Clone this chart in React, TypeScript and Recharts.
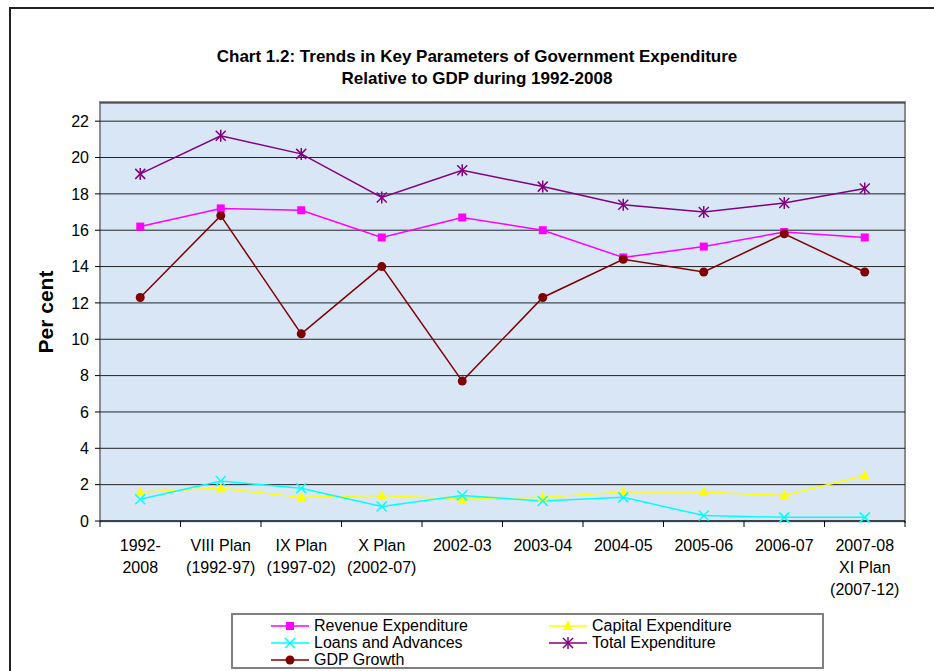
import React from "react";
import { ComposedChart, Line, XAxis, YAxis, CartesianGrid, Legend } from "recharts";

const categories = [
  "1992-\n2008",
  "VIII Plan\n(1992-97)",
  "IX Plan\n(1997-02)",
  "X Plan\n(2002-07)",
  "2002-03",
  "2003-04",
  "2004-05",
  "2005-06",
  "2006-07",
  "2007-08\nXI Plan\n(2007-12)",
];
const revenueExpenditure = [16.2, 17.2, 17.1, 15.6, 16.7, 16.0, 14.5, 15.1, 15.9, 15.6];
const capitalExpenditure = [1.6, 1.8, 1.3, 1.4, 1.2, 1.3, 1.6, 1.6, 1.4, 2.5];
const loansAndAdvances = [1.2, 2.2, 1.8, 0.8, 1.4, 1.1, 1.3, 0.3, 0.2, 0.2];
const totalExpenditure = [19.1, 21.2, 20.2, 17.8, 19.3, 18.4, 17.4, 17.0, 17.5, 18.3];
const gdpGrowth = [12.3, 16.8, 10.3, 14.0, 7.7, 12.3, 14.4, 13.7, 15.8, 13.7];
const yTicks = [0, 2, 4, 6, 8, 10, 12, 14, 16, 18, 20, 22];

const data = categories.map((name, i) => ({
  name,
  revenue: revenueExpenditure[i],
  capital: capitalExpenditure[i],
  loans: loansAndAdvances[i],
  total: totalExpenditure[i],
  gdp: gdpGrowth[i],
}));

const FONT = "'Liberation Sans', Arial, sans-serif";
const W = 934;
const H = 671;
const PLOT = { left: 100, top: 103, right: 905, bottom: 521 };
const BAND = (PLOT.right - PLOT.left) / categories.length;

type Shape = "square" | "triangle" | "cross" | "star" | "circle";

function Marker({ shape, color, cx, cy }: { shape: Shape; color: string; cx: number; cy: number }) {
  if (shape === "square") return <rect x={cx - 4} y={cy - 4} width={8} height={8} fill={color} />;
  if (shape === "triangle")
    return <polygon points={`${cx},${cy - 5.5} ${cx + 5},${cy + 4} ${cx - 5},${cy + 4}`} fill={color} />;
  if (shape === "circle") return <circle cx={cx} cy={cy} r={4.5} fill={color} />;
  const s = 5;
  return (
    <g stroke={color} strokeWidth={1.5}>
      <line x1={cx - s} y1={cy - s} x2={cx + s} y2={cy + s} />
      <line x1={cx - s} y1={cy + s} x2={cx + s} y2={cy - s} />
      {shape === "star" && <line x1={cx} y1={cy - s - 1} x2={cx} y2={cy + s + 1} />}
    </g>
  );
}

const makeDot = (shape: Shape, color: string) => (props: any) => (
  <Marker key={`${shape}-${props.index}`} shape={shape} color={color} cx={props.cx} cy={props.cy} />
);

const series: { key: string; label: string; color: string; shape: Shape }[] = [
  { key: "revenue", label: "Revenue Expenditure", color: "#ff00ff", shape: "square" },
  { key: "capital", label: "Capital Expenditure", color: "#ffff00", shape: "triangle" },
  { key: "loans", label: "Loans and Advances", color: "#00ffff", shape: "cross" },
  { key: "total", label: "Total Expenditure", color: "#800080", shape: "star" },
  { key: "gdp", label: "GDP Growth", color: "#800000", shape: "circle" },
];

function CategoryTick(props: any) {
  const { x, y, payload, index } = props;
  const lines = String(payload.value).split("\n");
  return (
    <g>
      <line x1={x - BAND / 2} x2={x - BAND / 2} y1={y} y2={y + 6} stroke="#000" />
      {index === categories.length - 1 && (
        <line x1={x + BAND / 2} x2={x + BAND / 2} y1={y} y2={y + 6} stroke="#000" />
      )}
      <text x={x} y={y + 30} textAnchor="middle" fontSize={16} fontFamily={FONT} fill="#000">
        {lines.map((l, i) => (
          <tspan key={i} x={x} dy={i === 0 ? 0 : 22}>
            {l}
          </tspan>
        ))}
      </text>
    </g>
  );
}

function LegendBox() {
  return (
    <div
      style={{
        display: "grid",
        gridTemplateColumns: "278px 240px",
        paddingLeft: 37,
        paddingTop: 2,
        fontFamily: FONT,
        fontSize: 16,
        lineHeight: "18px",
        color: "#000",
      }}
    >
      {series.map((s) => (
        <div key={s.key} style={{ display: "flex", alignItems: "center", height: 17 }}>
          <svg width={40} height={14} style={{ marginRight: 4 }}>
            <line x1={1} x2={39} y1={7} y2={7} stroke={s.color} strokeWidth={1.5} />
            <Marker shape={s.shape} color={s.color} cx={20} cy={7} />
          </svg>
          <span>{s.label}</span>
        </div>
      ))}
    </div>
  );
}

export default function App() {
  return (
    <div style={{ position: "absolute", left: 0, top: 0, width: W, height: H, overflow: "hidden", background: "#fff" }}>
      <div
        style={{
          position: "absolute",
          left: 9,
          top: 7,
          width: 960,
          height: 700,
          borderTop: "2px solid #222",
          borderLeft: "2px solid #222",
        }}
      />
      <div
        style={{
          position: "absolute",
          left: 0,
          top: 46,
          width: 954,
          textAlign: "center",
          fontFamily: FONT,
          fontWeight: "bold",
          fontSize: 17,
          lineHeight: "22px",
          color: "#000",
        }}
      >
        Chart 1.2: Trends in Key Parameters of Government Expenditure
        <br />
        Relative to GDP during 1992-2008
      </div>
      <div
        style={{
          position: "absolute",
          left: PLOT.left - 1,
          top: PLOT.top - 2,
          width: PLOT.right - PLOT.left,
          height: PLOT.bottom - PLOT.top + 2,
          background: "#d9e6f5",
          borderTop: "2px solid #8c8c8c",
          borderRight: "2px solid #8c8c8c",
        }}
      />
      <div style={{ position: "absolute", left: 0, top: 0 }}>
        <ComposedChart
          width={W}
          height={H}
          data={data}
          margin={{ top: PLOT.top, right: W - PLOT.right, left: 0, bottom: 60 }}
        >
          <CartesianGrid vertical={false} stroke="#000" strokeOpacity={0.85} />
          <XAxis
            dataKey="name"
            scale="band"
            interval={0}
            tickLine={false}
            tickSize={0}
            tickMargin={0}
            height={H - PLOT.bottom - 60}
            axisLine={{ stroke: "#000" }}
            tick={<CategoryTick />}
          />
          <YAxis
            domain={[0, 23]}
            ticks={yTicks}
            width={PLOT.left}
            tickSize={5}
            tickMargin={6}
            axisLine={{ stroke: "#333" }}
            tickLine={{ stroke: "#000" }}
            tick={{ fill: "#000", fontSize: 16, fontFamily: FONT }}
            label={(p: any) => {
              const vb = p.viewBox;
              const cx = vb.x + 45;
              const cy = vb.y + vb.height / 2;
              return (
                <text
                  x={cx}
                  y={cy}
                  transform={`rotate(-90 ${cx} ${cy})`}
                  textAnchor="middle"
                  dominantBaseline="central"
                  fontFamily={FONT}
                  fontWeight="bold"
                  fontSize={21}
                  fill="#000"
                >
                  Per cent
                </text>
              );
            }}
          />
          <Legend
            layout="vertical"
            align="center"
            verticalAlign="middle"
            wrapperStyle={{
              left: 231,
              top: 613,
              width: 593,
              height: 56,
              border: "2px solid #808080",
              boxSizing: "border-box",
              background: "#fff",
            }}
            content={() => <LegendBox />}
          />
          {series.map((s) => (
            <Line
              key={s.key}
              dataKey={s.key}
              name={s.label}
              stroke={s.color}
              strokeWidth={1.5}
              dot={makeDot(s.shape, s.color)}
              activeDot={false}
              isAnimationActive={false}
            />
          ))}
        </ComposedChart>
      </div>
    </div>
  );
}
